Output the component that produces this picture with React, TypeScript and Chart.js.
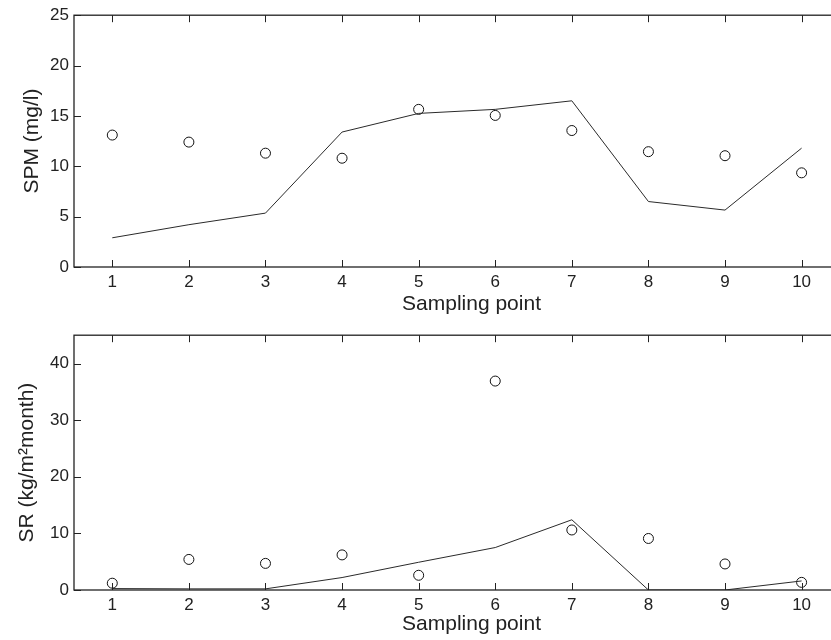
import React, { useEffect, useRef } from 'react';
import { Chart, registerables } from 'chart.js';

Chart.register(...registerables);

// ---- data ----
const samplingPoints = [1, 2, 3, 4, 5, 6, 7, 8, 9, 10];
const spmObserved = [13.1, 12.4, 11.3, 10.8, 15.65, 15.05, 13.55, 11.45, 11.05, 9.35];
const spmModel = [2.9, 4.2, 5.35, 13.4, 15.25, 15.65, 16.5, 6.5, 5.65, 11.8];
const srObserved = [1.2, 5.4, 4.7, 6.2, 2.6, 36.9, 10.6, 9.1, 4.6, 1.35];
const srModel = [0.25, 0.2, 0.2, 2.2, 4.9, 7.5, 12.4, 0, 0, 1.6];
const spmTicks = [0, 5, 10, 15, 20, 25];
const srTicks = [0, 10, 20, 30, 40];
const xTitle = 'Sampling point';
const spmTitle = 'SPM (mg/l)';
const srTitle = 'SR (kg/m\u00B2month)';

const FONT = "'Liberation Sans', Arial, Helvetica, sans-serif";
const INK = '#222';

const framePlugin = {
  id: 'matlabFrame',
  afterDraw(chart: any) {
    const { ctx, chartArea: a, scales } = chart;
    ctx.save();
    ctx.strokeStyle = INK;
    ctx.lineWidth = 1.3;
    ctx.strokeRect(a.left, a.top, a.right - a.left, a.bottom - a.top);
    ctx.lineWidth = 1;
    const tl = 7;
    ctx.beginPath();
    scales.x.ticks.forEach((t: any) => {
      const px = Math.round(scales.x.getPixelForValue(t.value)) + 0.5;
      ctx.moveTo(px, a.bottom);
      ctx.lineTo(px, a.bottom - tl);
      ctx.moveTo(px, a.top);
      ctx.lineTo(px, a.top + tl);
    });
    scales.y.ticks.forEach((t: any) => {
      const py = Math.round(scales.y.getPixelForValue(t.value)) + 0.5;
      ctx.moveTo(a.left, py);
      ctx.lineTo(a.left + tl, py);
      ctx.moveTo(a.right, py);
      ctx.lineTo(a.right - tl, py);
    });
    ctx.stroke();
    ctx.restore();
  },
};

function makeConfig(
  observed: number[],
  model: number[],
  yTicks: number[],
  yMax: number,
  yTitle: string,
  padTop: number,
  xHeight: number,
  yTitlePad: number
): any {
  return {
    type: 'scatter',
    data: {
      datasets: [
        {
          label: 'model',
          data: samplingPoints.map((x, i) => ({ x, y: model[i] })),
          showLine: true,
          borderColor: '#2a2a2a',
          borderWidth: 1,
          pointRadius: 0,
          fill: false,
          tension: 0,
        },
        {
          label: 'observed',
          data: samplingPoints.map((x, i) => ({ x, y: observed[i] })),
          showLine: false,
          pointStyle: 'circle',
          pointRadius: 5,
          pointBorderWidth: 1,
          pointBorderColor: '#111',
          pointBackgroundColor: 'rgba(0,0,0,0)',
        },
      ],
    },
    options: {
      responsive: false,
      animation: false,
      events: [],
      layout: { padding: { top: padTop, right: 1, left: 0, bottom: 0 } },
      plugins: { legend: { display: false }, tooltip: { enabled: false } },
      scales: {
        x: {
          type: 'linear',
          min: 0.5,
          max: 10.88,
          afterBuildTicks: (s: any) => {
            s.ticks = samplingPoints.map((v) => ({ value: v }));
          },
          afterFit: (s: any) => {
            s.height = xHeight;
          },
          grid: { display: false, drawTicks: false },
          border: { display: false },
          ticks: {
            autoSkip: false,
            maxRotation: 0,
            padding: 5,
            color: INK,
            font: { family: FONT, size: 17 },
          },
          title: {
            display: true,
            text: xTitle,
            color: INK,
            font: { family: FONT, size: 21 },
            padding: { top: 0, bottom: 3.4 },
          },
        },
        y: {
          type: 'linear',
          min: 0,
          max: yMax,
          afterBuildTicks: (s: any) => {
            s.ticks = yTicks.map((v) => ({ value: v }));
          },
          afterFit: (s: any) => {
            s.width = 74;
          },
          grid: { display: false, drawTicks: false },
          border: { display: false },
          ticks: {
            padding: 5,
            color: INK,
            font: { family: FONT, size: 17 },
          },
          title: {
            display: true,
            text: yTitle,
            color: INK,
            font: { family: FONT, size: 21 },
            padding: { top: yTitlePad, bottom: 0 },
          },
        },
      },
    },
    plugins: [framePlugin],
  };
}

export default function App() {
  const topRef = useRef<HTMLCanvasElement>(null);
  const botRef = useRef<HTMLCanvasElement>(null);

  useEffect(() => {
    const c1 = new Chart(
      topRef.current as HTMLCanvasElement,
      makeConfig(spmObserved, spmModel, spmTicks, 25, spmTitle, 13, 53, 19.6)
    );
    const c2 = new Chart(
      botRef.current as HTMLCanvasElement,
      makeConfig(srObserved, srModel, srTicks, 45, srTitle, 15, 50, 14.6)
    );
    return () => {
      c1.destroy();
      c2.destroy();
    };
  }, []);

  return (
    <div
      style={{
        position: 'fixed',
        left: 0,
        top: 0,
        width: 831,
        height: 640,
        overflow: 'hidden',
        background: '#fff',
      }}
    >
      <canvas
        ref={topRef}
        width={875}
        height={320}
        style={{ position: 'absolute', left: 0, top: 0, width: 875, height: 320 }}
      />
      <canvas
        ref={botRef}
        width={875}
        height={320}
        style={{ position: 'absolute', left: 0, top: 320, width: 875, height: 320 }}
      />
    </div>
  );
}
